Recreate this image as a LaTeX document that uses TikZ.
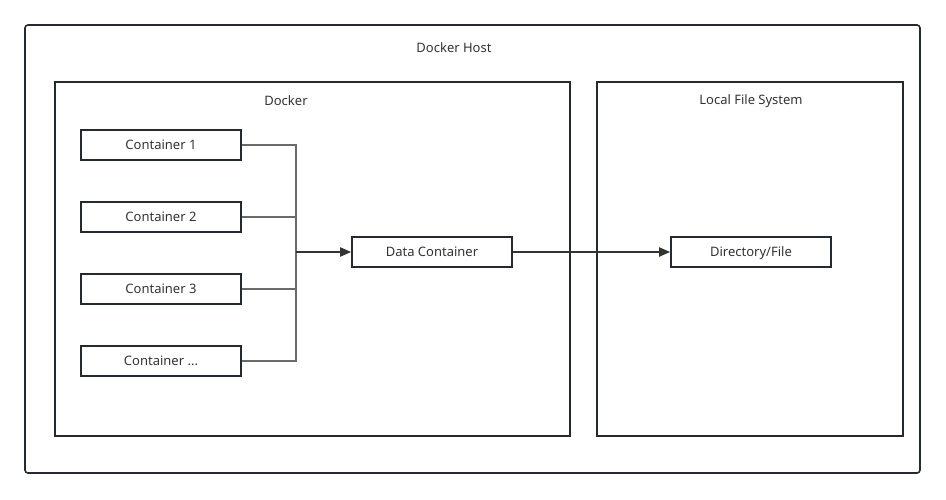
\documentclass[tikz,border=0pt]{standalone}
\usepackage{fontspec}
\setmainfont{Noto Sans}
\usetikzlibrary{arrows.meta}
\definecolor{boxline}{HTML}{232A31}
\definecolor{wiregray}{HTML}{6A6A6A}
\definecolor{arrowdark}{HTML}{333333}
\tikzset{
	frame/.style={draw=boxline, line width=1.6pt},
	cbox/.style={draw=boxline, line width=1.6pt, minimum width=160pt, minimum height=30pt, inner sep=0pt, font=\fontsize{13}{15}\selectfont, text=black!80, text height=10pt, text depth=1pt},
	title/.style={font=\fontsize{13}{15}\selectfont, text=black!80},
	wire/.style={draw=wiregray, line width=1.6pt},
	flow/.style={draw=arrowdark, line width=1.8pt, -{Triangle[length=11pt, width=9pt]}}
}
\begin{document}
\begin{tikzpicture}[x=1pt, y=-1pt]
		\useasboundingbox (0, 0) rectangle (946, 499);
		
		%%%%% FRAMES %%%%%
		\draw[frame, rounded corners=3pt] (25, 25) rectangle (920, 473);
		\draw[frame] (55, 82) rectangle (570, 436);
		\draw[frame] (597, 82) rectangle (903, 436);
		
		\node[title] (host) at (454, 48) {Docker Host};
		\node[title] (docker) at (286, 101) {Docker};
		\node[title] (lfs) at (751, 101) {Local File System};
		
		%%%%% NODES %%%%%
		\node[cbox] (c1) at (161, 145) {Container 1};
		\node[cbox] (c2) at (161, 217) {Container 2};
		\node[cbox] (c3) at (161, 289) {Container 3};
		\node[cbox] (cn) at (161, 361) {Container ...};
		
		\node[cbox] (data) at (432, 252) {Data Container};
		\node[cbox] (dir) at (751, 252) {Directory/File};
		
		\coordinate (bus) at (296, 252);
		
		%%%%% CONNECTORS %%%%%
		\draw[wire] (c1.east) -| (bus);
		\draw[wire] (c2.east) -| (bus);
		\draw[wire] (c3.east) -| (bus);
		\draw[wire] (cn.east) -| (bus);
		
		\draw[flow] (bus) -- (data.west);
		\draw[flow] (data.east) -- (dir.west);
\end{tikzpicture}
\end{document}
